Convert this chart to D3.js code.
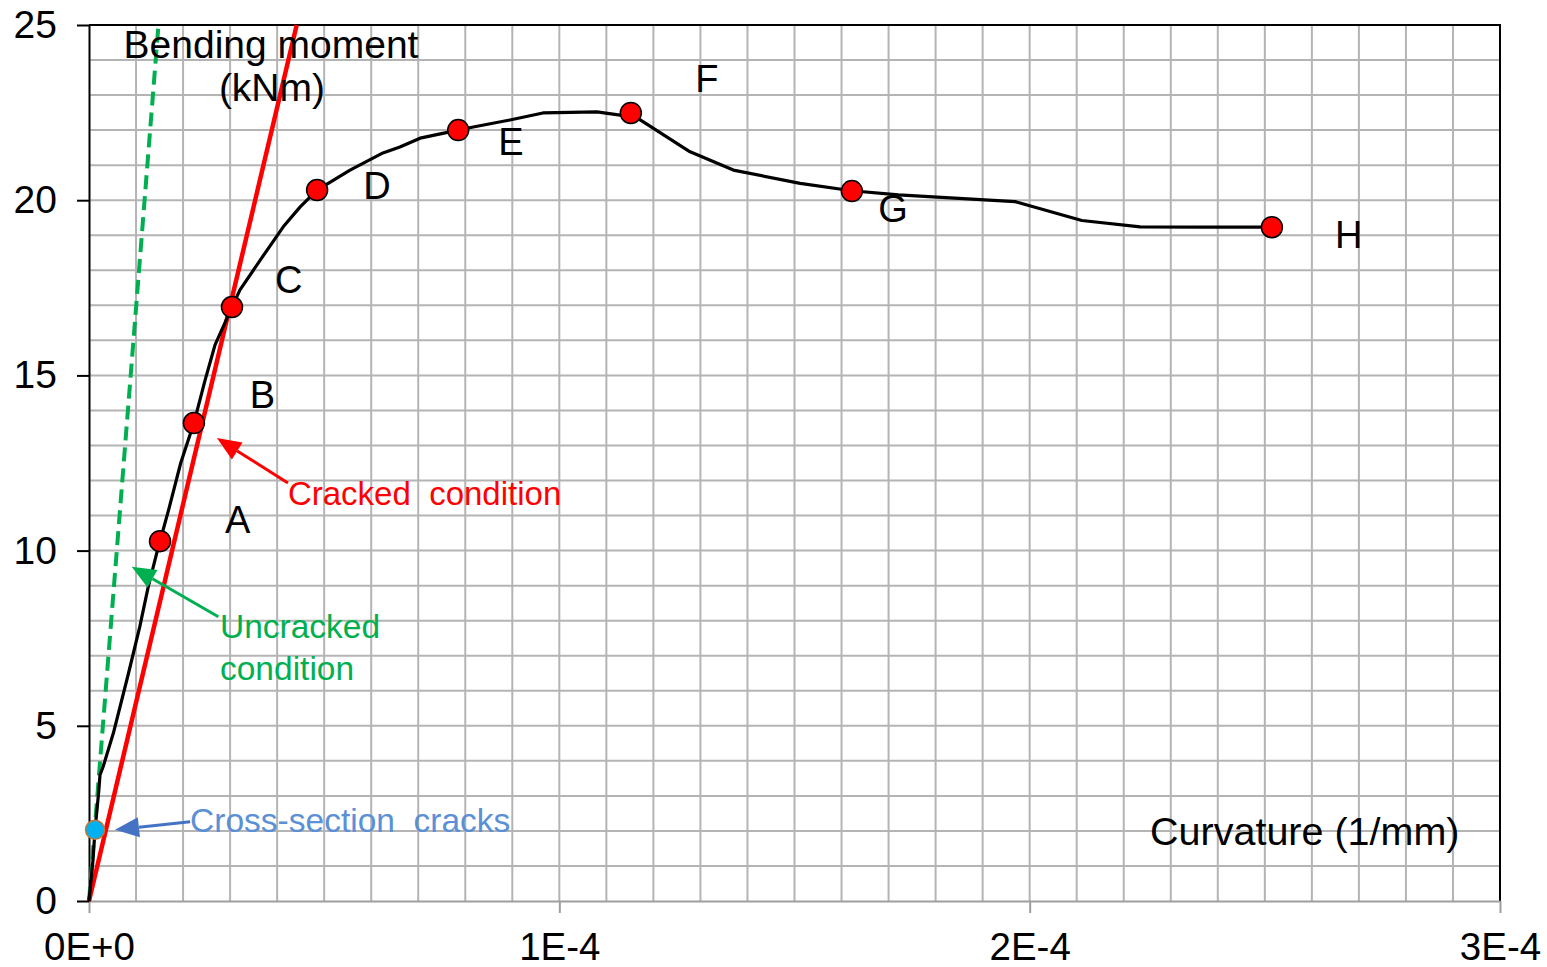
<!DOCTYPE html>
<html>
<head>
<meta charset="utf-8">
<script src="https://cdn.jsdelivr.net/npm/d3@7"></script>
<style>
  html, body { margin: 0; padding: 0; background: #fff; }
  svg { display: block; }
  text { font-family: "Liberation Sans", Arial, sans-serif; white-space: pre; }
</style>
</head>
<body>
<svg id="chart" width="1547" height="967"></svg>
<script>
// ---- data ----
// moment–curvature test curve (curvature in 1/mm, moment in kNm)
const curveK = [0, 0.085e-5, 0.128e-5, 0.21e-5, 0.234e-5, 0.30e-5, 0.52e-5, 0.84e-5, 1.08e-5, 1.26e-5, 1.44e-5, 1.51e-5,
  1.70e-5, 1.95e-5, 2.23e-5, 2.47e-5, 2.68e-5, 3.04e-5, 3.21e-5, 3.64e-5, 4.13e-5, 4.49e-5, 4.85e-5, 5.55e-5, 6.25e-5,
  6.61e-5, 7.04e-5, 7.85e-5, 8.17e-5, 8.95e-5, 9.65e-5, 10.8e-5, 11.29e-5, 11.52e-5, 11.72e-5, 12.78e-5, 13.70e-5,
  15.12e-5, 16.22e-5, 17.21e-5, 19.69e-5, 21.11e-5, 22.35e-5, 23.69e-5, 25.15e-5];
const curveM = [0, 1.17, 2.03, 3.17, 3.6, 3.83, 4.8, 6.5, 7.83, 8.97, 9.93, 10.27,
  11.2, 12.5, 13.64, 14.87, 15.87, 16.95, 17.44, 18.29, 19.24, 19.81, 20.29, 20.86, 21.35,
  21.52, 21.77, 22.0, 22.09, 22.29, 22.49, 22.52, 22.43, 22.49, 22.29, 21.38, 20.86,
  20.48, 20.27, 20.15, 19.96, 19.42, 19.24, 19.23, 19.23];

// stage points A–H
const stageNames = ["A", "B", "C", "D", "E", "F", "G", "H"];
const stageK = [1.51e-5, 2.23e-5, 3.04e-5, 4.85e-5, 7.85e-5, 11.52e-5, 16.22e-5, 25.15e-5];
const stageM = [10.27, 13.64, 16.95, 20.29, 22.0, 22.49, 20.26, 19.23];
// stage label anchors (left x, baseline)
const labelK = [2.89e-5, 3.42e-5, 3.955e-5, 5.83e-5, 8.70e-5, 12.89e-5, 16.78e-5, 26.49e-5];
const labelM = [10.5, 14.07, 17.35, 20.03, 21.29, 23.09, 19.38, 18.64];

// first cracking point
const crackK = [0.128e-5];
const crackM = [2.03];

// reference stiffness lines
const uncrackedK = [0, 1.477e-5];
const uncrackedM = [0, 25];
const crackedK = [0, 4.416e-5];
const crackedM = [0, 25];

// axes
const xTickValues = [0, 1e-4, 2e-4, 3e-4];
const xTickLabels = ["0E+0", "1E-4", "2E-4", "3E-4"];
const yTickValues = [0, 5, 10, 15, 20, 25];

// ---- layout ----
const svg = d3.select("#chart");
const L = 89, T = 25, W = 1411, H = 876;
const x = d3.scaleLinear().domain([0, 3e-4]).range([L, L + W]);
const y = d3.scaleLinear().domain([0, 25]).range([T + H, T]);

// grid
const g = svg.append("g");
g.selectAll("line.v").data(d3.range(1, 30).map(i => i * 1e-5)).join("line")
  .attr("x1", d => x(d)).attr("x2", d => x(d)).attr("y1", T).attr("y2", T + H)
  .attr("stroke", "#b4b4b4").attr("stroke-width", 2);
g.selectAll("line.h").data(d3.range(1, 25)).join("line")
  .attr("x1", L).attr("x2", L + W).attr("y1", d => y(d)).attr("y2", d => y(d))
  .attr("stroke", "#b4b4b4").attr("stroke-width", 2);

// top & right border
svg.append("path").attr("d", `M${L},${T}H${L + W}V${T + H}`)
  .attr("fill", "none").attr("stroke", "#000").attr("stroke-width", 2);

// x axis
const xAxis = d3.axisBottom(x).tickValues(xTickValues)
  .tickFormat((d, i) => xTickLabels[i]).tickSize(12).tickPadding(20).tickSizeOuter(0);
const gx = svg.append("g").attr("transform", `translate(0,${T + H})`).call(xAxis);
gx.select(".domain").attr("stroke", "#9e9e9e").attr("stroke-width", 2);
gx.selectAll(".tick line").attr("stroke", "#9e9e9e").attr("stroke-width", 2);
gx.selectAll(".tick text").attr("font-size", 38.5).attr("fill", "#000")
  .attr("font-family", "'Liberation Sans', Arial, sans-serif");

// y axis
const yAxis = d3.axisLeft(y).tickValues(yTickValues).tickSize(12).tickPadding(20).tickSizeOuter(0);
const gy = svg.append("g").attr("transform", `translate(${L},0)`).call(yAxis);
gy.select(".domain").attr("stroke", "#000").attr("stroke-width", 2);
gy.selectAll(".tick line").attr("stroke", "#000").attr("stroke-width", 2);
gy.selectAll(".tick text").attr("font-size", 39).attr("fill", "#000")
  .attr("font-family", "'Liberation Sans', Arial, sans-serif");

// lines
const line = d3.line().x(d => x(d[0])).y(d => y(d[1]));
svg.append("path").datum(uncrackedK.map((k, i) => [k, uncrackedM[i]]))
  .attr("d", line).attr("fill", "none").attr("stroke", "#00b050")
  .attr("stroke-width", 4).attr("stroke-dasharray", "14,7");
svg.append("path").datum(crackedK.map((k, i) => [k, crackedM[i]]))
  .attr("d", line).attr("fill", "none").attr("stroke", "#ff0000").attr("stroke-width", 4.5);
svg.append("path").datum(curveK.map((k, i) => [k, curveM[i]]))
  .attr("d", line).attr("fill", "none").attr("stroke", "#000")
  .attr("stroke-width", 3.2).attr("stroke-linejoin", "round");

// markers
svg.selectAll("circle.stage").data(stageK.map((k, i) => [k, stageM[i]])).join("circle")
  .attr("cx", d => x(d[0])).attr("cy", d => y(d[1])).attr("r", 10.5)
  .attr("fill", "#ff0000").attr("stroke", "#000").attr("stroke-width", 1.5);
svg.selectAll("circle.crack").data(crackK.map((k, i) => [k, crackM[i]])).join("circle")
  .attr("cx", d => x(d[0])).attr("cy", d => y(d[1])).attr("r", 9.5)
  .attr("fill", "#00b0f0").attr("stroke", "#c5772f").attr("stroke-width", 1.5);

// stage labels
svg.selectAll("text.stage").data(stageNames).join("text")
  .attr("x", (d, i) => x(labelK[i])).attr("y", (d, i) => y(labelM[i]))
  .attr("font-size", 38).attr("fill", "#000").text(d => d);

// arrows
function arrow(k0, m0, k1, m1, color) {
  const x0 = x(k0), y0 = y(m0), x1 = x(k1), y1 = y(m1);
  const a = Math.atan2(y1 - y0, x1 - x0);
  const len = 24, half = 10;
  const bx = x1 - len * Math.cos(a), by = y1 - len * Math.sin(a);
  svg.append("line").attr("x1", x0).attr("y1", y0).attr("x2", bx).attr("y2", by)
    .attr("stroke", color).attr("stroke-width", 3);
  svg.append("path")
    .attr("d", `M${x1},${y1}L${bx + half * Math.sin(a)},${by - half * Math.cos(a)}L${bx - half * Math.sin(a)},${by + half * Math.cos(a)}Z`)
    .attr("fill", color);
}
arrow(4.23e-5, 11.93, 2.72e-5, 13.21, "#ff0000");
arrow(2.75e-5, 8.11, 0.908e-5, 9.54, "#00b050");
arrow(2.15e-5, 2.26, 0.553e-5, 2.03, "#4472c4");

// annotation texts
svg.append("text").attr("x", x(4.23e-5)).attr("y", y(11.3))
  .attr("font-size", 33).attr("fill", "#ff0000").text("Cracked  condition");
svg.append("text").attr("x", x(2.785e-5)).attr("y", y(7.5))
  .attr("font-size", 33.5).attr("fill", "#00b050").text("Uncracked");
svg.append("text").attr("x", x(2.785e-5)).attr("y", y(6.31))
  .attr("font-size", 33.5).attr("fill", "#00b050").text("condition");
svg.append("text").attr("x", x(2.15e-5)).attr("y", y(1.98))
  .attr("font-size", 33.5).attr("fill", "#5b8fd6").text("Cross-section  cracks");

// axis titles
svg.append("text").attr("x", x(3.87e-5)).attr("y", y(24.06)).attr("text-anchor", "middle")
  .attr("font-size", 39).attr("fill", "#000").text("Bending moment");
svg.append("text").attr("x", x(3.89e-5)).attr("y", y(22.83)).attr("text-anchor", "middle")
  .attr("font-size", 39).attr("fill", "#000").text("(kNm)");
svg.append("text").attr("x", x(22.56e-5)).attr("y", y(1.6))
  .attr("font-size", 39.5).attr("fill", "#000").text("Curvature (1/mm)");
</script>
</body>
</html>
